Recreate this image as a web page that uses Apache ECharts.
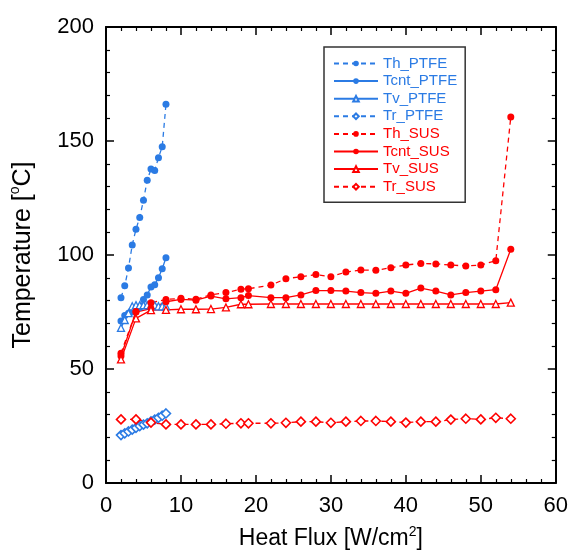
<!DOCTYPE html>
<html>
<head>
<meta charset="utf-8">
<script src="https://cdn.jsdelivr.net/npm/echarts@6/dist/echarts.min.js"></script>
<style>
  html, body { margin: 0; padding: 0; background: #fff; }
  #chart { width: 571px; height: 557px; }
</style>
</head>
<body>
<div id="chart"></div>
<script>
// heat flux [W/cm2]
const xPTFE = [2, 2.5, 3, 3.5, 4, 4.5, 5, 5.5, 6, 6.5, 7, 7.5, 8]
const thPTFE = [81.3, 86.5, 94.3, 104.4, 111.3, 116.5, 124, 132.8, 137.7, 137.1, 142.7, 147.5, 166.1]
const tcntPTFE = [71, 73.5, 74.5, 75, 76, 77, 80.5, 82.5, 86, 87, 90, 94, 98.8]
const tvPTFE = [68, 71.5, 74.5, 77.5, 78, 78, 78, 78, 78, 78, 77.5, 77.5, 77.5]
const trPTFE = [21, 21.8, 22.6, 23.4, 24.2, 25, 25.6, 26.2, 27, 27.8, 28.6, 29.5, 30.5]

const xSUS = [2, 4, 6, 8, 10, 12, 14, 16, 18, 19, 22, 24, 26, 28, 30, 32, 34, 36, 38, 40, 42, 44, 46, 48, 50, 52, 54]
const thSUS = [56.9, 75.2, 79.1, 80.5, 81, 80.6, 82.5, 83.5, 85, 85.2, 86.8, 89.6, 90.5, 91.4, 90.5, 92.5, 93.4, 93.3, 94.4, 95.6, 96.3, 96.1, 95.6, 95.2, 95.6, 97.5, 160.5]
const tcntSUS = [55.7, 75, 76.5, 79.5, 80.5, 80.2, 82, 80.8, 81.3, 82.2, 81.3, 81.3, 82.5, 84.4, 84.4, 84.2, 83.5, 83.2, 84.2, 83.2, 85.5, 84.2, 82.5, 83.5, 84.2, 84.8, 102.5]
const tvSUS = [54.2, 72.2, 75.8, 75.9, 76.2, 76.2, 76.3, 77, 78.4, 78.4, 78.5, 78.5, 78.5, 78.5, 78.5, 78.5, 78.5, 78.5, 78.5, 78.5, 78.5, 78.5, 78.5, 78.5, 78.5, 78.5, 79.1]
const trSUS = [27.9, 27.9, 26.5, 25.7, 25.7, 25.7, 25.7, 26, 26.2, 26.2, 26.2, 26.4, 26.9, 26.9, 26.4, 26.9, 27.2, 27.2, 26.9, 26.5, 26.9, 26.9, 27.8, 28.2, 27.9, 28.6, 28.2]

const xTicks = { min: 0, max: 60, interval: 10 }
const yTicks = { min: 0, max: 200, interval: 50 }

const BLUE = '#2B7BE4'
const RED = '#FF0000'
const FONT = 'Liberation Sans, Arial, sans-serif'

function pairs(xs, ys) {
  return xs.map((x, i) => [x, ys[i]])
}

// kind: th / tcnt / tv / tr -> line style + marker
function makeSeries(name, xs, ys, color, kind) {
  const dashed = kind === 'th' || kind === 'tr'
  let symbol = 'circle'
  let symbolSize = 7
  let itemStyle = { color, borderColor: color, borderWidth: 0 }
  if (kind === 'tv') {
    symbol = 'triangle'
    symbolSize = 7
    itemStyle = { color: '#fff', borderColor: color, borderWidth: 1.3 }
  } else if (kind === 'tr') {
    symbol = 'diamond'
    symbolSize = 9
    itemStyle = { color: '#fff', borderColor: color, borderWidth: 1.6 }
  }
  return {
    name,
    type: 'line',
    data: pairs(xs, ys),
    symbol,
    symbolSize,
    showAllSymbol: true,
    itemStyle,
    lineStyle: { color, width: 1.3, type: dashed ? [5, 4] : 'solid' },
    emphasis: { disabled: true },
    animation: false,
  }
}

const seriesData = [
  makeSeries('Th_PTFE', xPTFE, thPTFE, BLUE, 'th'),
  makeSeries('Tcnt_PTFE', xPTFE, tcntPTFE, BLUE, 'tcnt'),
  makeSeries('Tv_PTFE', xPTFE, tvPTFE, BLUE, 'tv'),
  makeSeries('Tr_PTFE', xPTFE, trPTFE, BLUE, 'tr'),
  makeSeries('Th_SUS', xSUS, thSUS, RED, 'th'),
  makeSeries('Tcnt_SUS', xSUS, tcntSUS, RED, 'tcnt'),
  makeSeries('Tv_SUS', xSUS, tvSUS, RED, 'tv'),
  makeSeries('Tr_SUS', xSUS, trSUS, RED, 'tr'),
]

const axisLine = { show: true, onZero: false, lineStyle: { color: '#000', width: 2 } }
const axisTick = { show: true, inside: true, length: 8, lineStyle: { color: '#000', width: 1.5 } }
const minorTick = { show: true, splitNumber: 5, length: 4, lineStyle: { color: '#000', width: 1.2 } }
const tickLabel = { color: '#000', fontSize: 22, fontFamily: FONT }

function nameRich(size) {
  return {
    a: { fontSize: size, fontFamily: FONT, color: '#000', lineHeight: size + 5 },
    sup: { fontSize: 14, fontFamily: FONT, color: '#000', verticalAlign: 'top', lineHeight: size + 5 },
  }
}

const myChart = echarts.init(document.getElementById('chart'), null, { renderer: 'canvas' })

const option = {
  backgroundColor: '#fff',
  animation: false,
  grid: { left: 104, right: 14, top: 27, bottom: 74 },
  legend: {
    left: 324,
    top: 47,
    orient: 'vertical',
    padding: [9, 8, 8, 9],
    itemGap: 2.6,
    itemWidth: 44,
    itemHeight: 7,
    borderColor: '#333',
    borderWidth: 1.5,
    backgroundColor: '#fff',
    textStyle: { fontSize: 15, fontFamily: FONT },
    data: seriesData.map((s) => ({
      name: s.name,
      textStyle: { color: s.lineStyle.color },
    })),
  },
  xAxis: [
    {
      type: 'value',
      ...xTicks,
      position: 'bottom',
      axisLine,
      axisTick,
      minorTick,
      splitLine: { show: false },
      axisLabel: { ...tickLabel, margin: 12, showMinLabel: true, showMaxLabel: true },
      name: '{a|Heat Flux [W/cm}{sup|2}{a|]}',
      nameLocation: 'middle',
      nameGap: 42,
      nameTextStyle: { rich: nameRich(23) },
    },
    {
      type: 'value',
      ...xTicks,
      position: 'top',
      axisLine,
      axisTick,
      minorTick,
      splitLine: { show: false },
      axisLabel: { show: false },
    },
  ],
  yAxis: [
    {
      type: 'value',
      ...yTicks,
      position: 'left',
      axisLine,
      axisTick,
      minorTick,
      splitLine: { show: false },
      axisLabel: { ...tickLabel, margin: 12, showMinLabel: true, showMaxLabel: true },
      name: '{a|Temperature [}{sup|o}{a|C]}',
      nameLocation: 'middle',
      nameGap: 68,
      nameTextStyle: { rich: nameRich(25) },
    },
    {
      type: 'value',
      ...yTicks,
      position: 'right',
      axisLine,
      axisTick,
      minorTick,
      splitLine: { show: false },
      axisLabel: { show: false },
    },
  ],
  series: seriesData,
}

myChart.setOption(option, true)
</script>
</body>
</html>
